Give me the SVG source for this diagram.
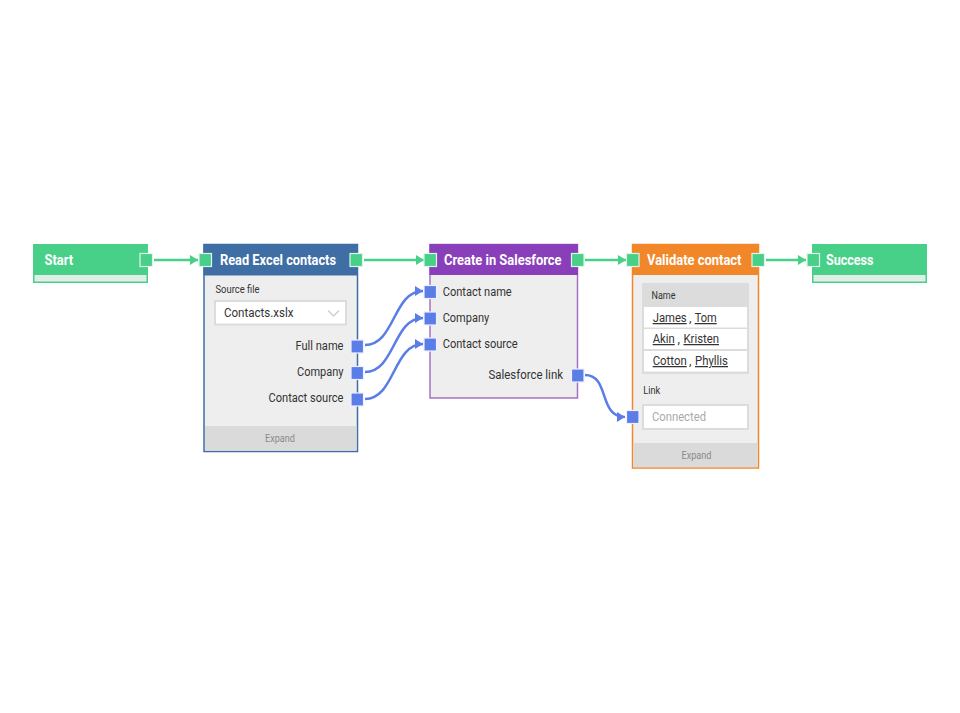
<svg xmlns="http://www.w3.org/2000/svg" width="960" height="713" viewBox="0 0 960 713">
<defs>
<style>
text{font-family:Roboto,"Liberation Sans",sans-serif;fill:#333}
.t{font-weight:700;font-size:14px;fill:#fff}
.l{font-size:12.5px}
.s{font-size:10px}
.e{font-size:10px;fill:#8a8a8a}
.u{font-size:12.5px;text-decoration:underline}
.body{fill:#eee}
.foot{fill:#dadada}
.pg{fill:#49d088;stroke:#dff5e9;stroke-width:1.2}
.pb{fill:#5a7de8;stroke:#eef1fc;stroke-width:1.2}
.cg{fill:none;stroke:#49d088;stroke-width:2.5}
.cb{fill:none;stroke:#5a7de8;stroke-width:2.5}
.f{fill:#fff;stroke:#dcdcdc;stroke-width:2}
</style>
<marker id="ag" markerUnits="userSpaceOnUse" markerWidth="9" markerHeight="10" refX="8" refY="5" orient="auto"><path d="M0 0L8 5L0 10z" fill="#49d088"/></marker>
<marker id="ab" markerUnits="userSpaceOnUse" markerWidth="9" markerHeight="10" refX="8" refY="5" orient="auto"><path d="M0 0L8 5L0 10z" fill="#5a7de8"/></marker>
</defs>
<g id="connectors">
<path class="cg" marker-end="url(#ag)" d="M154 260H198"/>
<path class="cg" marker-end="url(#ag)" d="M364 260H424"/>
<path class="cg" marker-end="url(#ag)" d="M585 260H626"/>
<path class="cg" marker-end="url(#ag)" d="M766 260H806"/>
<path class="cb" marker-end="url(#ab)" d="M365 345C395 345 393 291 423 291"/>
<path class="cb" marker-end="url(#ab)" d="M365 372C395 372 393 318 423 318"/>
<path class="cb" marker-end="url(#ab)" d="M365 399C395 399 393 344 423 344"/>
<path class="cb" marker-end="url(#ab)" d="M585 375C610 375 598 417 625 417"/>
</g>
<g id="start">
<rect x="33" y="244" width="115" height="39" fill="#49d088"/>
<rect x="34.500" y="275" width="112" height="6.500" fill="#e0eee7"/>
<text class="t" x="44.500" y="265" textLength="28.500" lengthAdjust="spacingAndGlyphs">Start</text>
<rect class="pg" x="140" y="253.500" width="12.500" height="13"/>
</g>
<g id="read-excel">
<rect x="204" y="244.500" width="153.500" height="207" fill="#eee" stroke="#3f6ea5" stroke-width="1.500"/>
<rect x="203.500" y="244" width="154.500" height="31.500" fill="#3f6ea5"/>
<rect class="foot" x="205" y="426" width="151.500" height="24.700"/>
<text class="t" x="220" y="265" textLength="116" lengthAdjust="spacingAndGlyphs">Read Excel contacts</text>
<text class="s" x="215.500" y="293" textLength="44" lengthAdjust="spacingAndGlyphs">Source file</text>
<rect class="f" x="215" y="301" width="131" height="23.500"/>
<text class="l" x="224" y="317" textLength="69.500" lengthAdjust="spacingAndGlyphs">Contacts.xslx</text>
<path d="M328 310.500L333.500 316L339 310.500" fill="none" stroke="#d0d0d0" stroke-width="1.500"/>
<text class="l" x="343.500" y="350" text-anchor="end" textLength="48" lengthAdjust="spacingAndGlyphs">Full name</text>
<text class="l" x="343.500" y="376" text-anchor="end" textLength="46.500" lengthAdjust="spacingAndGlyphs">Company</text>
<text class="l" x="343.500" y="402" text-anchor="end" textLength="75" lengthAdjust="spacingAndGlyphs">Contact source</text>
<text class="e" x="280" y="442" text-anchor="middle" textLength="30" lengthAdjust="spacingAndGlyphs">Expand</text>
<rect class="pg" x="199" y="253.500" width="12.500" height="13"/>
<rect class="pg" x="350" y="253.500" width="12.500" height="13"/>
<rect class="pb" x="351" y="340" width="12.500" height="13"/>
<rect class="pb" x="351" y="366.500" width="12.500" height="13"/>
<rect class="pb" x="351" y="393" width="12.500" height="13"/>
</g>
<g id="create-salesforce">
<rect x="430" y="244.500" width="147.500" height="153.500" fill="#eee" stroke="#a272ca" stroke-width="1.500"/>
<rect x="429.500" y="244" width="148.500" height="31" fill="#8a3fba"/>
<text class="t" x="444" y="265" textLength="117.500" lengthAdjust="spacingAndGlyphs">Create in Salesforce</text>
<text class="l" x="442.700" y="296" textLength="69" lengthAdjust="spacingAndGlyphs">Contact name</text>
<text class="l" x="442.700" y="322" textLength="46.500" lengthAdjust="spacingAndGlyphs">Company</text>
<text class="l" x="442.700" y="348" textLength="75" lengthAdjust="spacingAndGlyphs">Contact source</text>
<text class="l" x="563" y="379" text-anchor="end" textLength="74.500" lengthAdjust="spacingAndGlyphs">Salesforce link</text>
<rect class="pg" x="424" y="253.500" width="12.500" height="13"/>
<rect class="pg" x="571.500" y="253.500" width="12.500" height="13"/>
<rect class="pb" x="424" y="285.500" width="12.500" height="13"/>
<rect class="pb" x="424" y="312" width="12.500" height="13"/>
<rect class="pb" x="424" y="338" width="12.500" height="13"/>
<rect class="pb" x="571.500" y="369" width="12.500" height="13"/>
</g>
<g id="validate">
<rect x="632.500" y="244.500" width="126" height="223.500" fill="#eee" stroke="#f2872a" stroke-width="1.500"/>
<rect x="632" y="244" width="127" height="31" fill="#f2872a"/>
<rect class="foot" x="633.500" y="443" width="124" height="24.300"/>
<text class="t" x="647" y="265" textLength="94.500" lengthAdjust="spacingAndGlyphs">Validate contact</text>
<rect x="642" y="283" width="107" height="91" fill="#dcdcdc"/>
<rect x="644" y="307" width="103" height="20.500" fill="#fff"/>
<rect x="644" y="329" width="103" height="20" fill="#fff"/>
<rect x="644" y="351" width="103" height="20.500" fill="#fff"/>
<text class="s" x="651.500" y="299" textLength="24" lengthAdjust="spacingAndGlyphs">Name</text>
<text class="u" x="652.700" y="322" textLength="34" lengthAdjust="spacingAndGlyphs">James</text>
<text class="l" x="689" y="322">,</text>
<text class="u" x="694.700" y="322" textLength="22" lengthAdjust="spacingAndGlyphs">Tom</text>
<text class="u" x="652.700" y="343" textLength="22" lengthAdjust="spacingAndGlyphs">Akin</text>
<text class="l" x="677.500" y="343">,</text>
<text class="u" x="683.500" y="343" textLength="35.500" lengthAdjust="spacingAndGlyphs">Kristen</text>
<text class="u" x="652.700" y="365" textLength="34" lengthAdjust="spacingAndGlyphs">Cotton</text>
<text class="l" x="689" y="365">,</text>
<text class="u" x="695" y="365" textLength="33" lengthAdjust="spacingAndGlyphs">Phyllis</text>
<text class="s" x="643.300" y="394" textLength="17" lengthAdjust="spacingAndGlyphs">Link</text>
<rect class="f" x="643" y="405" width="105" height="24"/>
<text class="l" x="652" y="421" textLength="54" lengthAdjust="spacingAndGlyphs" style="fill:#aaa">Connected</text>
<text class="e" x="696.500" y="459" text-anchor="middle" textLength="30" lengthAdjust="spacingAndGlyphs">Expand</text>
<rect class="pg" x="626.500" y="253.500" width="12.500" height="13"/>
<rect class="pg" x="752" y="253.500" width="12.500" height="13"/>
<rect class="pb" x="626.500" y="410.500" width="12.500" height="13"/>
</g>
<g id="success">
<rect x="812" y="244" width="115" height="39" fill="#49d088"/>
<rect x="813.500" y="275" width="112" height="6.500" fill="#e0eee7"/>
<text class="t" x="826" y="265" textLength="47.500" lengthAdjust="spacingAndGlyphs">Success</text>
<rect class="pg" x="807" y="253.500" width="12.500" height="13"/>
</g>
</svg>
